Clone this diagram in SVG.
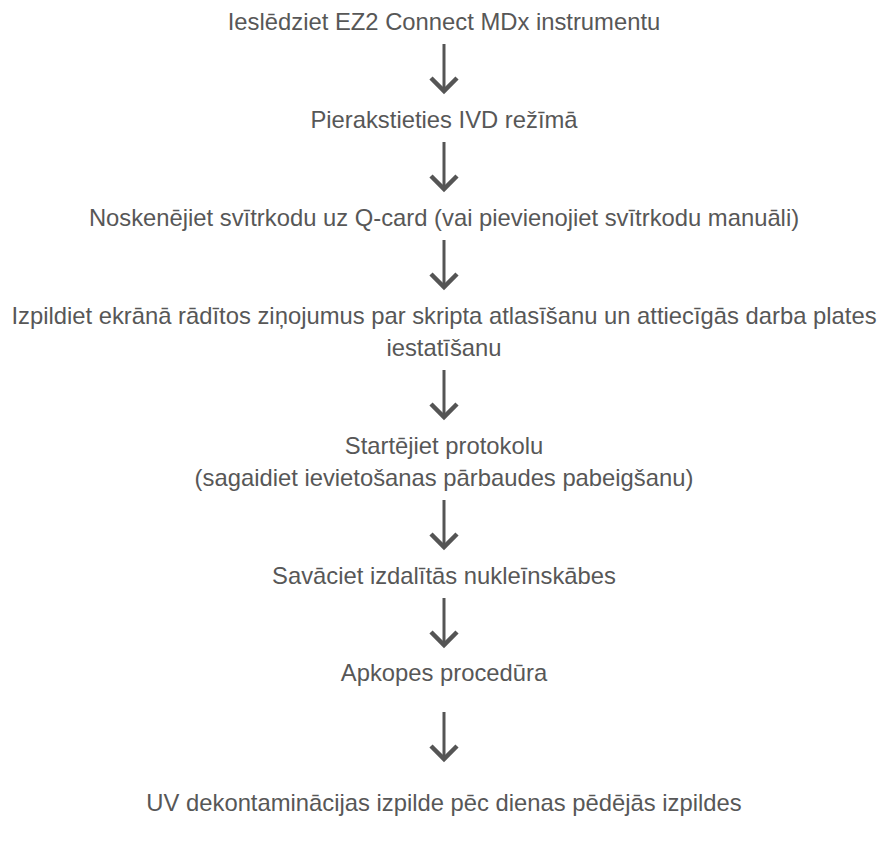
<svg xmlns="http://www.w3.org/2000/svg" width="885" height="846" viewBox="0 0 885 846">
<defs>
<style>
text{font-family:"Liberation Sans",Arial,sans-serif;font-size:23.8px;fill:#575757;text-anchor:middle;}
.c line{stroke:#555555;stroke-width:3;}
.c path{fill:none;stroke:#555555;stroke-width:4.5;stroke-linejoin:miter;}
</style>
</defs>
<rect width="885" height="846" fill="#ffffff"/>
<g id="n1"><text x="444" y="30">Ieslēdziet EZ2 Connect MDx instrumentu</text></g>
<g id="n2"><text x="444" y="128">Pierakstieties IVD režīmā</text></g>
<g id="n3"><text x="444" y="226">Noskenējiet svītrkodu uz Q-card (vai pievienojiet svītrkodu manuāli)</text></g>
<g id="n4"><text x="444" y="324">Izpildiet ekrānā rādītos ziņojumus par skripta atlasīšanu un attiecīgās darba plates</text><text x="444" y="356">iestatīšanu</text></g>
<g id="n5"><text x="444" y="454">Startējiet protokolu</text><text x="444" y="486">(sagaidiet ievietošanas pārbaudes pabeigšanu)</text></g>
<g id="n6"><text x="444" y="584">Savāciet izdalītās nukleīnskābes</text></g>
<g id="n7"><text x="444" y="681">Apkopes procedūra</text></g>
<g id="n8"><text x="444" y="811">UV dekontaminācijas izpilde pēc dienas pēdējās izpildes</text></g>
<g id="connectors" class="c">
<g><line x1="444" y1="44" x2="444" y2="92"/><path d="M431 78 L444 91 L457 78"/></g>
<g><line x1="444" y1="142" x2="444" y2="190"/><path d="M431 176 L444 189 L457 176"/></g>
<g><line x1="444" y1="240" x2="444" y2="288"/><path d="M431 274 L444 287 L457 274"/></g>
<g><line x1="444" y1="370" x2="444" y2="418"/><path d="M431 404 L444 417 L457 404"/></g>
<g><line x1="444" y1="500" x2="444" y2="548"/><path d="M431 534 L444 547 L457 534"/></g>
<g><line x1="444" y1="598" x2="444" y2="646"/><path d="M431 632 L444 645 L457 632"/></g>
<g><line x1="444" y1="712" x2="444" y2="760"/><path d="M431 746 L444 759 L457 746"/></g>
</g>
</svg>
